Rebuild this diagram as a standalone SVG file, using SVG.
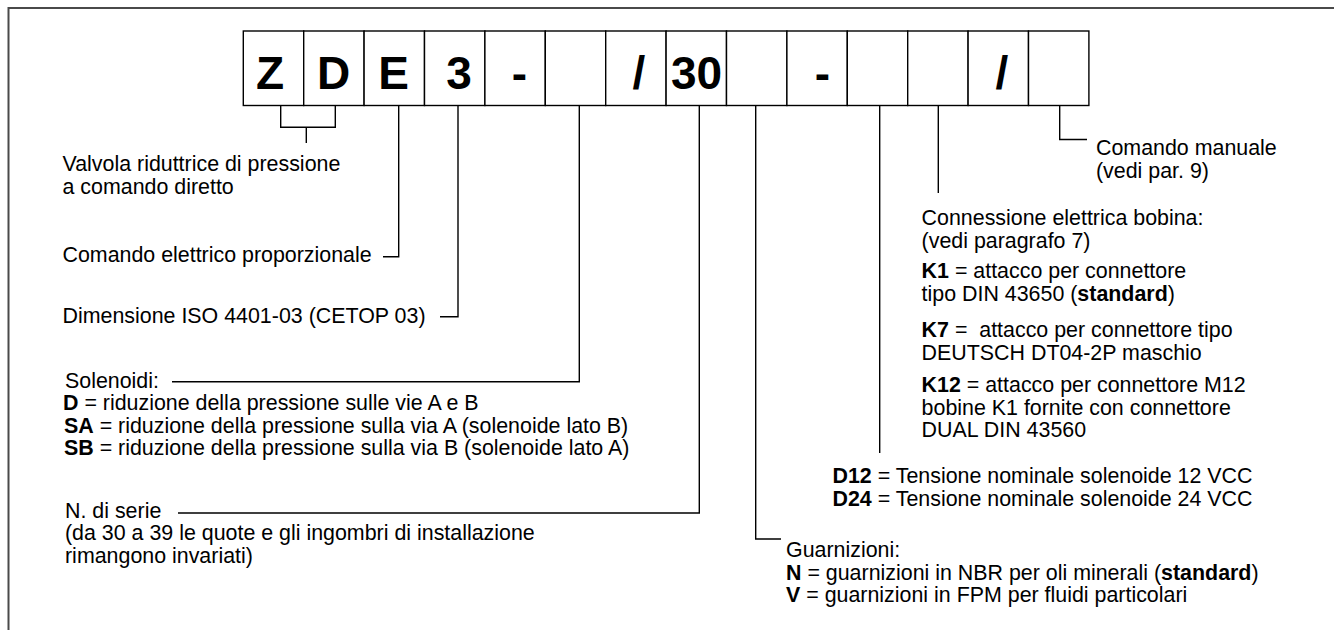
<svg xmlns="http://www.w3.org/2000/svg" width="1334" height="630" viewBox="0 0 1334 630">
<style>
.t{font-family:"Liberation Sans",Arial,sans-serif;font-size:21.4px;fill:#000;white-space:pre}
.b{font-weight:bold}
.big{font-family:"Liberation Sans",Arial,sans-serif;font-size:46px;font-weight:bold;fill:#000;text-anchor:middle}
.box{fill:#fff;stroke:#000;stroke-width:1.4}
.ln{fill:none;stroke:#000;stroke-width:1.4}
.frame{fill:none;stroke:#4a4a4a;stroke-width:2}
</style>
<rect width="1334" height="630" fill="#fff"/>
<path class="frame" d="M8.5,630 V8 H1334"/>
<g id="code">
<rect class="box" x="243.3" y="31" width="60.4" height="74.5"/>
<rect class="box" x="303.7" y="31" width="60.4" height="74.5"/>
<rect class="box" x="364.1" y="31" width="60.4" height="74.5"/>
<rect class="box" x="424.5" y="31" width="60.4" height="74.5"/>
<rect class="box" x="484.9" y="31" width="60.4" height="74.5"/>
<rect class="box" x="545.3" y="31" width="60.4" height="74.5"/>
<rect class="box" x="605.7" y="31" width="60.4" height="74.5"/>
<rect class="box" x="666.1" y="31" width="60.4" height="74.5"/>
<rect class="box" x="726.5" y="31" width="60.4" height="74.5"/>
<rect class="box" x="786.9" y="31" width="60.4" height="74.5"/>
<rect class="box" x="847.3" y="31" width="60.4" height="74.5"/>
<rect class="box" x="907.7" y="31" width="60.4" height="74.5"/>
<rect class="box" x="968.1" y="31" width="60.4" height="74.5"/>
<rect class="box" x="1028.5" y="31" width="60.4" height="74.5"/>
<text class="big" x="270" y="89">Z</text>
<text class="big" x="333.5" y="89">D</text>
<text class="big" x="393.5" y="89">E</text>
<text class="big" x="459" y="89">3</text>
<text class="big" x="519.5" y="89">-</text>
<text class="big" x="639" y="89">/</text>
<text class="big" x="696.5" y="89">30</text>
<text class="big" x="822.5" y="89">-</text>
<text class="big" x="1002" y="89">/</text>
</g>
<g id="connectors">
<path class="ln" d="M280.7,105.5 V127.3 H335.3 V105.5 M306.3,127.3 V143"/>
<path class="ln" d="M398.7,105.5 V256.7 H383"/>
<path class="ln" d="M458,105.5 V316.7 H440"/>
<path class="ln" d="M579.3,105.5 V381.7 H172"/>
<path class="ln" d="M699.3,105.5 V513 H178"/>
<path class="ln" d="M755.7,105.5 V539 H781"/>
<path class="ln" d="M879.7,105.5 V453"/>
<path class="ln" d="M938.3,105.5 V193"/>
<path class="ln" d="M1059.7,105.5 V139.5 H1087"/>
</g>
<g id="n-valvola">
<text class="t" x="62.5" y="171">Valvola riduttrice di pressione</text>
<text class="t" x="62.5" y="194">a comando diretto</text>
</g>
<g id="n-comando">
<text class="t" x="62.5" y="262">Comando elettrico proporzionale</text>
</g>
<g id="n-dimensione">
<text class="t" x="62.5" y="323">Dimensione ISO 4401-03 (CETOP 03)</text>
</g>
<g id="n-solenoidi">
<text class="t" x="65" y="387.5">Solenoidi:</text>
<text class="t" x="63" y="410"><tspan class="b">D</tspan> = riduzione della pressione sulle vie A e B</text>
<text class="t" x="64" y="432.5"><tspan class="b">SA</tspan> = riduzione della pressione sulla via A (solenoide lato B)</text>
<text class="t" x="64" y="455"><tspan class="b">SB</tspan> = riduzione della pressione sulla via B (solenoide lato A)</text>
</g>
<g id="n-serie">
<text class="t" x="65" y="517.5">N. di serie</text>
<text class="t" x="65" y="540">(da 30 a 39 le quote e gli ingombri di installazione</text>
<text class="t" x="65" y="562.5">rimangono invariati)</text>
</g>
<g id="n-guarnizioni">
<text class="t" x="786" y="557">Guarnizioni:</text>
<text class="t" x="786" y="579.5"><tspan class="b">N</tspan> = guarnizioni in NBR per oli minerali (<tspan class="b">standard</tspan>)</text>
<text class="t" x="786" y="602"><tspan class="b">V</tspan> = guarnizioni in FPM per fluidi particolari</text>
</g>
<g id="n-tensione">
<text class="t" x="832.5" y="483"><tspan class="b">D12</tspan> = Tensione nominale solenoide 12 VCC</text>
<text class="t" x="832.5" y="505.5"><tspan class="b">D24</tspan> = Tensione nominale solenoide 24 VCC</text>
</g>
<g id="n-connessione">
<text class="t" x="921.6" y="225">Connessione elettrica bobina:</text>
<text class="t" x="921.6" y="247.5">(vedi paragrafo 7)</text>
<text class="t" x="921.6" y="278"><tspan class="b">K1</tspan> = attacco per connettore</text>
<text class="t" x="921.6" y="300.5">tipo DIN 43650 (<tspan class="b">standard</tspan>)</text>
<text class="t" x="921.6" y="337"><tspan class="b">K7</tspan> =  attacco per connettore tipo</text>
<text class="t" x="921.6" y="359.5">DEUTSCH DT04-2P maschio</text>
<text class="t" x="921.6" y="392"><tspan class="b">K12</tspan> = attacco per connettore M12</text>
<text class="t" x="921.6" y="414.5">bobine K1 fornite con connettore</text>
<text class="t" x="921.6" y="437">DUAL DIN 43560</text>
</g>
<g id="n-manuale">
<text class="t" x="1096" y="155">Comando manuale</text>
<text class="t" x="1096" y="177.5">(vedi par. 9)</text>
</g>
</svg>
